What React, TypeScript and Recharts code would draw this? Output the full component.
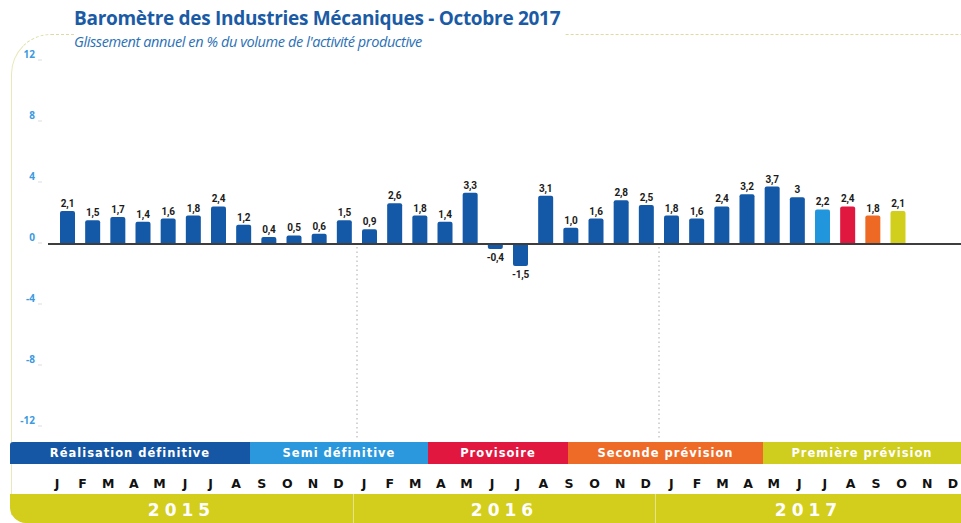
import React from 'react';
import { BarChart, Bar, XAxis, YAxis, Cell, LabelList, ReferenceLine } from 'recharts';

// one entry per month, Jan 2015 -> Dec 2017
const periods = [
  '2015-01', '2015-02', '2015-03', '2015-04', '2015-05', '2015-06', '2015-07', '2015-08', '2015-09', '2015-10', '2015-11', '2015-12',
  '2016-01', '2016-02', '2016-03', '2016-04', '2016-05', '2016-06', '2016-07', '2016-08', '2016-09', '2016-10', '2016-11', '2016-12',
  '2017-01', '2017-02', '2017-03', '2017-04', '2017-05', '2017-06', '2017-07', '2017-08', '2017-09', '2017-10', '2017-11', '2017-12',
];
const monthLetters = ['J', 'F', 'M', 'A', 'M', 'J', 'J', 'A', 'S', 'O', 'N', 'D'];
const values: (number | null)[] = [
  2.1, 1.5, 1.7, 1.4, 1.6, 1.8, 2.4, 1.2, 0.4, 0.5, 0.6, 1.5,
  0.9, 2.6, 1.8, 1.4, 3.3, -0.4, -1.5, 3.1, 1.0, 1.6, 2.8, 2.5,
  1.8, 1.6, 2.4, 3.2, 3.7, 3, 2.2, 2.4, 1.8, 2.1, null, null,
];
const valueLabels = [
  '2,1', '1,5', '1,7', '1,4', '1,6', '1,8', '2,4', '1,2', '0,4', '0,5', '0,6', '1,5',
  '0,9', '2,6', '1,8', '1,4', '3,3', '-0,4', '-1,5', '3,1', '1,0', '1,6', '2,8', '2,5',
  '1,8', '1,6', '2,4', '3,2', '3,7', '3', '2,2', '2,4', '1,8', '2,1', '', '',
];
// status of each figure (see legend band)
const statuses = [
  ...Array(30).fill('definitive'),
  'semi', 'provisoire', 'seconde', 'premiere', 'premiere', 'premiere',
];
const yTicks = [12, 8, 4, 0, -4, -8, -12];
const years = ['2015', '2016', '2017'];
const legendItems = [
  { key: 'definitive', label: 'Réalisation définitive', from: 10, to: 250 },
  { key: 'semi', label: 'Semi définitive', from: 250, to: 428 },
  { key: 'provisoire', label: 'Provisoire', from: 428, to: 568 },
  { key: 'seconde', label: 'Seconde prévision', from: 568, to: 763 },
  { key: 'premiere', label: 'Première prévision', from: 763, to: 961 },
];

const colors: Record<string, string> = {
  definitive: '#1459a8',
  semi: '#2196dc',
  provisoire: '#e0173f',
  seconde: '#ee6a24',
  premiere: '#d2cf1c',
};
const bandColors: Record<string, string> = {
  definitive: '#1657a5',
  semi: '#2b98dd',
  provisoire: '#e2173f',
  seconde: '#ee6b27',
  premiere: '#cfcd1d',
};

const data = periods.map((p, i) => ({ period: p, value: values[i], label: valueLabels[i], status: statuses[i] }));

const W = 961;
const H = 523;
const PLOT_LEFT = 55;
const BAND = (W - PLOT_LEFT) / periods.length;

const YTick = (props: any) => {
  const { y, payload } = props;
  return (
    <g>
      <text x={35} y={y - 2} textAnchor="end" fontSize={10} fontWeight={700} fill="#3b9ae0" fontFamily="Open Sans">
        {payload.value}
      </text>
      <line x1={38} x2={42} y1={y} y2={y} stroke="#ddd" />
    </g>
  );
};

// month letters sit on a slightly wider grid than the bars
const MonthTick = (props: any) => {
  const { x, y, index } = props;
  return (
    <text x={x - 10.6 + index * 0.43} y={y + 54} textAnchor="middle" fontSize={12.5} fontWeight={900} fill="#111" fontFamily="DejaVu Sans">
      {monthLetters[index % 12]}
    </text>
  );
};

const BarLabel = (props: any) => {
  const { x, y, width, height, index } = props;
  const v = values[index];
  if (v == null) return null;
  const top = Math.min(y, y + height);
  const bottom = Math.max(y, y + height);
  const ty = v < 0 ? bottom + 12 : top - 4;
  return (
    <text x={x + width / 2} y={ty} textAnchor="middle" fontSize={10} fontWeight={700} fill="#1b1b1b" fontFamily="Roboto" letterSpacing={-0.2}>
      {valueLabels[index]}
    </text>
  );
};

// dotted separator, only below the zero line
const YearSeparator = (props: any) => {
  const { x1, y1, y2 } = props;
  const bottom = Math.max(y1, y2);
  const top = Math.min(y1, y2);
  const zeroY = (top + bottom) / 2;
  return <line x1={x1} x2={x1} y1={zeroY + 4} y2={bottom + 14} stroke="#aaa" strokeDasharray="1.5 3" />;
};

const ZeroLine = (props: any) => {
  const { x1, x2, y1 } = props;
  return <line x1={x1 - 7} x2={x2} y1={y1 + 1} y2={y1 + 1} stroke="#3d3d3d" strokeWidth={2} />;
};

export default function App() {
  return (
    <div style={{ position: 'relative', width: W, height: H, background: '#fff', overflow: 'hidden' }}>
      <style>{'body{margin:0}'}</style>
      {/* frame */}
      <div
        style={{
          position: 'absolute', left: 11, top: 34, width: W, height: 480,
          borderTop: '1px dashed #dcdca0', borderLeft: '1px solid #e8e8b8', borderTopLeftRadius: 40,
        }}
      />
      <div style={{ position: 'absolute', left: 74, top: 6, background: '#fff', paddingRight: 4, fontFamily: 'Open Sans' }}>
        <div style={{ fontSize: 19, fontWeight: 700, color: '#1b5ba5', letterSpacing: -0.3, lineHeight: '24px' }}>
          Baromètre des Industries Mécaniques - Octobre 2017
        </div>
        <div style={{ fontSize: 14.5, fontStyle: 'italic', color: '#2a70b6', letterSpacing: -0.4, lineHeight: '17px', marginTop: 3 }}>
          Glissement annuel en % du volume de l'activité productive
        </div>
      </div>

      <div style={{ position: 'absolute', left: 0, top: 0 }}>
        <BarChart width={W} height={H} data={data} margin={{ top: 60, right: 0, bottom: 67, left: 10 }} barCategoryGap={0}>
          <XAxis dataKey="period" axisLine={false} tickLine={false} interval={0} height={30} tick={<MonthTick />} />
          <YAxis domain={[-12, 12]} ticks={yTicks} width={45} axisLine={false} tickLine={false} tick={<YTick />} />
          <ReferenceLine x="2016-01" position="start" shape={<YearSeparator />} />
          <ReferenceLine x="2017-01" position="start" shape={<YearSeparator />} />
          <ReferenceLine y={0} shape={<ZeroLine />} />
          <Bar dataKey="value" barSize={15} radius={[2, 2, 0, 0]} isAnimationActive={false}>
            {data.map((d) => (
              <Cell key={d.period} fill={colors[d.status]} />
            ))}
            <LabelList dataKey="label" content={<BarLabel />} />
          </Bar>
        </BarChart>
      </div>

      {/* legend band */}
      {legendItems.map((it, i) => (
        <div
          key={it.key}
          style={{
            position: 'absolute', left: it.from, top: 442, width: it.to - it.from, height: 22,
            background: bandColors[it.key], color: '#fff', fontFamily: 'DejaVu Sans', fontSize: 11.5, fontWeight: 700,
            letterSpacing: 1, textAlign: 'center', lineHeight: '22px',
            borderTopLeftRadius: i === 0 ? 3 : 0,
          }}
        >
          {it.label}
        </div>
      ))}

      {/* years band */}
      <div style={{ position: 'absolute', left: 10, top: 494, width: W - 10, height: 29, background: '#d3cd1b', borderBottomLeftRadius: 16 }} />
      {years.map((yr, i) => {
        const from = i === 0 ? 10 : PLOT_LEFT + BAND * 12 * i - 4;
        const to = i === years.length - 1 ? W : PLOT_LEFT + BAND * 12 * (i + 1) - 4;
        return (
          <div
            key={yr}
            style={{
              position: 'absolute', left: from, top: 494, width: to - from, height: 29,
              borderLeft: i > 0 ? '1px solid #e6e290' : 'none',
              color: '#fff', fontFamily: 'DejaVu Sans', fontWeight: 700, fontSize: 17, letterSpacing: 5,
              textAlign: 'center', lineHeight: '32px', boxSizing: 'border-box',
            }}
          >
            {yr}
          </div>
        );
      })}
    </div>
  );
}
